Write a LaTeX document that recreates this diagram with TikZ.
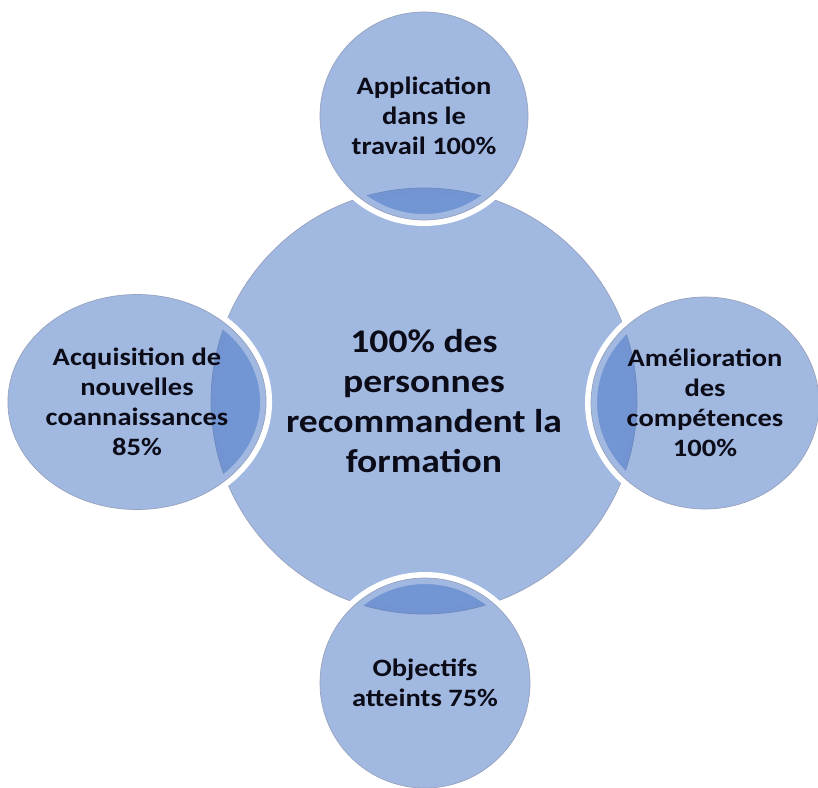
\documentclass[tikz,border=0pt]{standalone}
\usepackage{fontspec}
\setmainfont{Carlito}
\newfontfamily\labelfont{Carlito}[FakeStretch=1.14]
\usepackage{xcolor}
\usetikzlibrary{positioning, shapes.geometric}

\definecolor{discblue}{RGB}{68,114,196}
\definecolor{rimgray}{RGB}{150,162,190}
\definecolor{labelink}{RGB}{12,12,24}

\begin{document}
\begin{tikzpicture}[
    x=1pt, y=-1pt,
    disc/.style={draw=rimgray, line width=0.7pt, fill=discblue, fill opacity=0.5, text opacity=1, inner sep=0pt, align=center, text=labelink,
        preaction={draw=white, line width=12pt, draw opacity=1}},
    hubcircle/.style={disc, circle, minimum size=426pt, font=\labelfont\bfseries\fontsize{33}{40}\selectfont},
    spokecircle/.style={disc, circle, font=\labelfont\bfseries\fontsize{25}{30}\selectfont},
    spokeoval/.style={disc, ellipse, font=\labelfont\bfseries\fontsize{25}{30}\selectfont},
]
\useasboundingbox (0,0) rectangle (818,787);

% Hub
\node[hubcircle] (hub) at (424, 401) {100\% des\\personnes\\recommandent la\\formation};

% Spokes
\node[spokecircle, minimum size=208pt] (top) at (424, 116) {Application\\dans le\\travail 100\%};
\node[spokeoval, minimum width=258pt, minimum height=215pt] (left) at (137, 402) {Acquisition de\\nouvelles\\coannaissances\\85\%};
\node[spokeoval, minimum width=228pt, minimum height=212pt] (right) at (705, 403) {Amélioration\\des\\compétences\\100\%};
\node[spokecircle, minimum size=210pt] (bottom) at (425, 683) {Objectifs\\atteints 75\%};

\end{tikzpicture}
\end{document}
